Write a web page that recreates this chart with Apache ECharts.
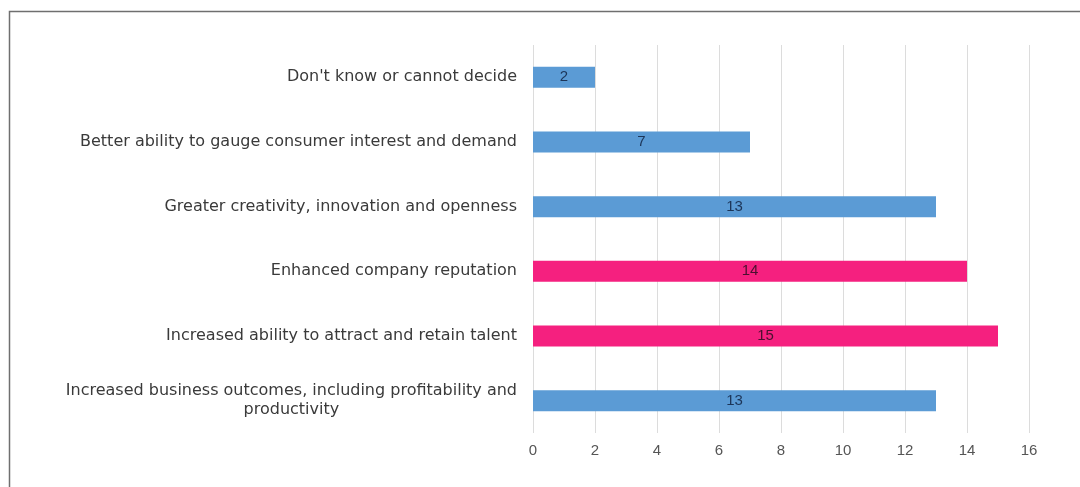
<!DOCTYPE html>
<html>
<head>
<meta charset="utf-8">
<style>
  html, body { margin: 0; padding: 0; background: #ffffff; }
  #chart { width: 1080px; height: 487px; }
</style>
<script src="https://cdn.jsdelivr.net/npm/echarts@6/dist/echarts.min.js"></script>
</head>
<body>
<div id="chart"></div>
<script>
// Benefits cited, top to bottom
const categories = [
  "Don't know or cannot decide",
  "Better ability to gauge consumer interest and demand",
  "Greater creativity, innovation and openness",
  "Enhanced company reputation",
  "Increased ability to attract and retain talent",
  "Increased business outcomes, including profitability and\nproductivity"
];
const counts = [2, 7, 13, 14, 15, 13];
const highlighted = [false, false, false, true, true, false];
const xTicks = [0, 2, 4, 6, 8, 10, 12, 14, 16];

const BLUE = '#5b9bd5';
const PINK = '#f5207f';
const LABEL_FONT = 'DejaVu Sans, Verdana, sans-serif';

const chart = echarts.init(document.getElementById('chart'), null, { renderer: 'canvas' });

chart.setOption({
  backgroundColor: '#ffffff',
  animation: false,
  graphic: [
    {
      type: 'polyline',
      shape: { points: [[9.5, 487], [9.5, 11.5], [1080, 11.5]] },
      style: { stroke: '#6f6f6f', lineWidth: 1.5, fill: null }
    }
  ],
  grid: { left: 533, right: 51, top: 45, bottom: 54, containLabel: false },
  xAxis: {
    type: 'value',
    min: xTicks[0],
    max: xTicks[xTicks.length - 1],
    interval: 2,
    axisLine: { show: false },
    axisTick: { show: false },
    splitLine: { show: true, lineStyle: { color: '#dcdcdc', width: 1 } },
    axisLabel: {
      color: '#555555',
      fontFamily: 'Liberation Sans, Arial, sans-serif',
      fontSize: 15,
      margin: 10
    }
  },
  yAxis: {
    type: 'category',
    inverse: true,
    data: categories,
    axisLine: { show: false },
    axisTick: { show: false },
    axisLabel: {
      color: '#3a3a3a',
      fontFamily: LABEL_FONT,
      fontSize: 16,
      margin: 16,
      lineHeight: 19,
      formatter: function (v) {
        return v.split('\n').map(function (s) { return '{c|' + s + '}'; }).join('\n');
      },
      rich: {
        c: {
          align: 'center',
          color: '#3a3a3a',
          fontFamily: LABEL_FONT,
          fontSize: 16,
          lineHeight: 19
        }
      }
    }
  },
  series: [
    {
      type: 'bar',
      barWidth: 21,
      data: counts.map(function (v, i) {
        return {
          value: v,
          itemStyle: { color: highlighted[i] ? PINK : BLUE },
          label: { color: highlighted[i] ? '#4a1030' : '#1c3558' }
        };
      }),
      label: {
        show: true,
        position: 'inside',
        fontFamily: 'Liberation Sans, Arial, sans-serif',
        fontSize: 15
      }
    }
  ]
});
</script>
</body>
</html>
